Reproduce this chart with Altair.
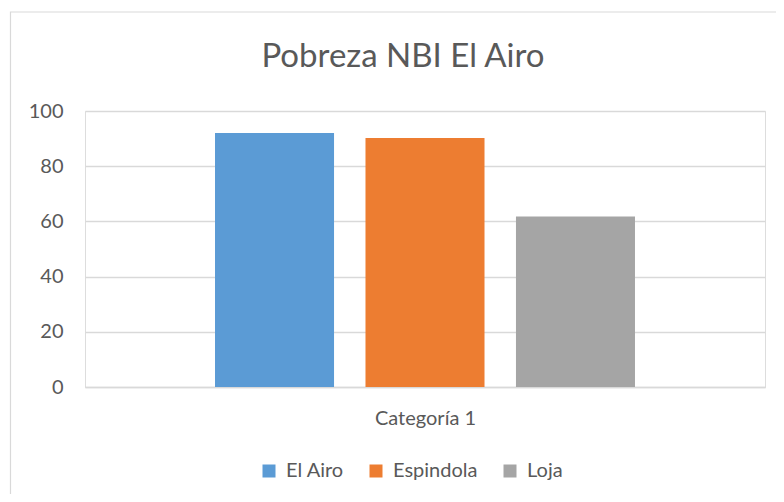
import altair as alt
import pandas as pd

series = ["El Airo", "Espindola", "Loja"]
values = [92, 90.2, 61.8]
colors = ["#5B9BD5", "#ED7D31", "#A5A5A5"]
category_label = "Categoría 1"
title_text = "Pobreza NBI El Airo"
y_ticks = [0, 20, 40, 60, 80, 100]

df = pd.DataFrame({"serie": series, "valor": values})

FONT = "Lato"
TXT = "#595959"
GRID = "#D9D9D9"

base_one = alt.Chart(pd.DataFrame({"a": [0]}))

border = base_one.mark_rect(
    fill=None, stroke=GRID, strokeWidth=1.2
).encode(
    x=alt.value(-74.5), x2=alt.value(720), y=alt.value(-99), y2=alt.value(420)
)

title_mark = base_one.mark_text(
    text=title_text,
    font=FONT,
    fontSize=33,
    color=TXT,
    align="center",
    baseline="alphabetic",
).encode(x=alt.value(318), y=alt.value(-44))

bars = alt.Chart(df).mark_bar().encode(
    x=alt.X(
        "serie:N",
        sort=series,
        scale=alt.Scale(paddingInner=0.209, paddingOuter=0.864),
        axis=alt.Axis(
            title=category_label,
            labels=False,
            ticks=False,
            domainColor=GRID,
            domainWidth=1.5,
            titleFont=FONT,
            titleFontSize=20,
            titleFontWeight="normal",
            titleColor=TXT,
            titlePadding=21,
        ),
    ),
    y=alt.Y(
        "valor:Q",
        scale=alt.Scale(domain=[0, 100]),
        axis=alt.Axis(
            title=None,
            values=y_ticks,
            domain=False,
            ticks=False,
            gridColor=GRID,
            gridWidth=1.5,
            labelFont=FONT,
            labelFontSize=20,
            labelColor=TXT,
            labelPadding=22,
        ),
    ),
    color=alt.Color(
        "serie:N",
        sort=series,
        scale=alt.Scale(domain=series, range=colors),
        legend=alt.Legend(
            title=None,
            orient="none",
            direction="horizontal",
            legendX=174,
            legendY=350,
            symbolType="square",
            symbolSize=169,
            symbolStrokeWidth=0,
            labelFont=FONT,
            labelFontSize=20,
            labelColor=TXT,
            labelOffset=7,
            columnPadding=22,
        ),
    ),
)

chart = alt.layer(border, title_mark, bars).properties(
    width=680,
    height=276,
    autosize=alt.AutoSizeParams(type="none"),
    padding={"left": 77, "top": 103, "right": 11, "bottom": 107},
).configure_view(stroke=None).configure(background="white")

chart.save("out.html", embed_options={"renderer": "svg", "actions": False})
